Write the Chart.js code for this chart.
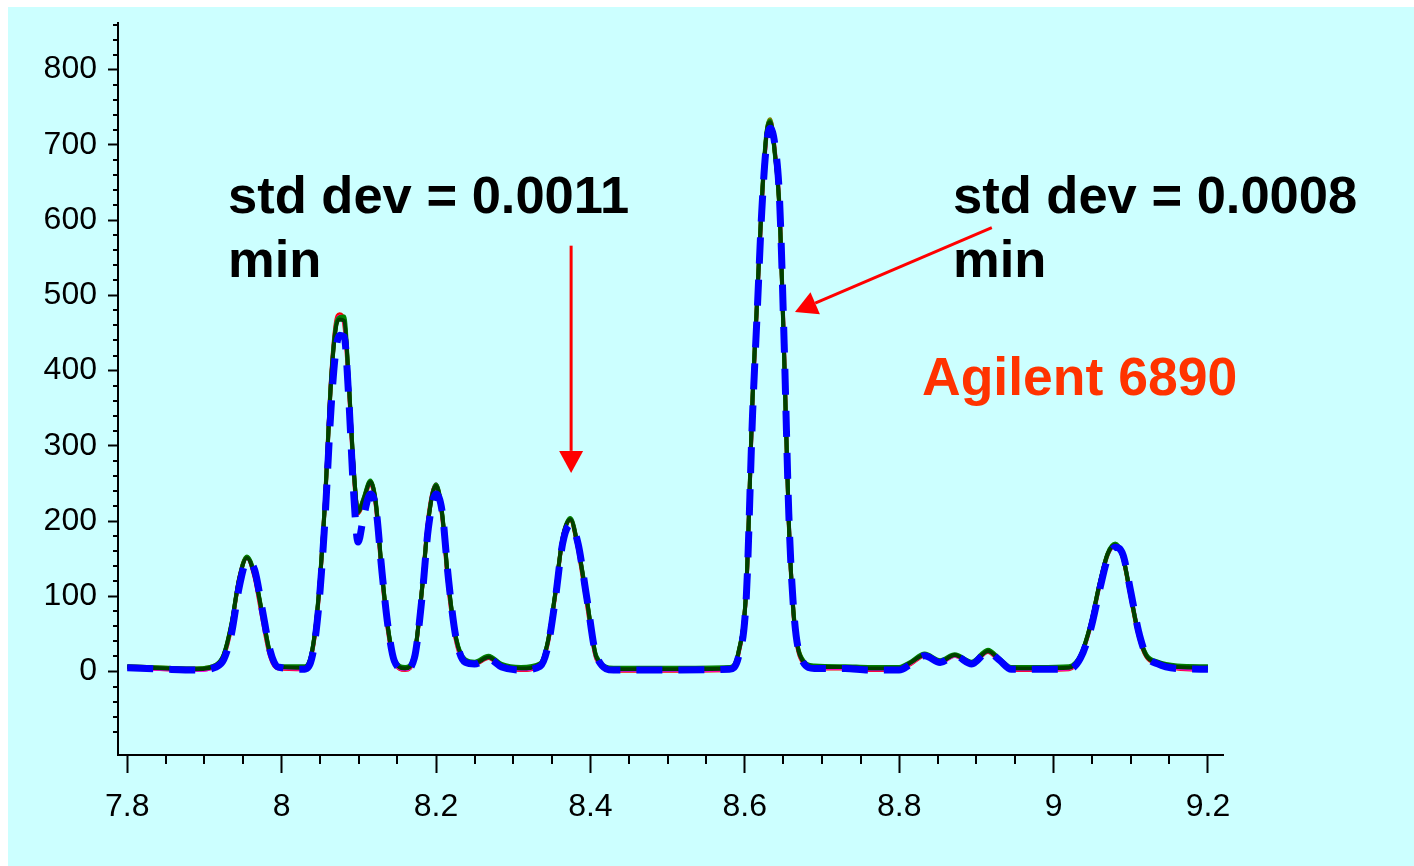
<!DOCTYPE html>
<html>
<head>
<meta charset="utf-8">
<script src="https://cdn.jsdelivr.net/npm/chart.js@4.4.1/dist/chart.umd.min.js"></script>
<style>
  body { margin: 0; background: #fff; }
  #bg { position: absolute; left: 8px; top: 7px; width: 1406px; height: 859px; background: #ccffff; }
  #myChart { position: absolute; left: 0; top: 0; }
</style>
</head>
<body>
<div id="bg"></div>
<canvas id="myChart" width="1414" height="866"></canvas>
<script>
// retention time (min)
var times = [7.80, 7.85, 7.89, 7.915, 7.925, 7.935, 7.945, 7.955, 7.965, 7.975,
             7.985, 7.995, 8.03, 8.04, 8.048, 8.056, 8.064, 8.07, 8.075, 8.081,
             8.087, 8.093, 8.099, 8.106, 8.115, 8.122, 8.13, 8.138, 8.146, 8.16,
             8.172, 8.182, 8.19, 8.2, 8.208, 8.216, 8.226, 8.238, 8.25, 8.268,
             8.285, 8.31, 8.335, 8.345, 8.354, 8.364, 8.374, 8.384, 8.395, 8.408,
             8.43, 8.5, 8.58, 8.592, 8.602, 8.61, 8.616, 8.622, 8.628, 8.633,
             8.639, 8.645, 8.651, 8.657, 8.663, 8.672, 8.69, 8.73, 8.76, 8.8,
             8.815, 8.833, 8.853, 8.872, 8.894, 8.915, 8.93, 8.945, 8.98, 9.02,
             9.035, 9.048, 9.06, 9.07, 9.08, 9.09, 9.1, 9.11, 9.12, 9.135,
             9.16, 9.2];

// replicate runs
var run1 = [5, 3, 2, 7, 20, 60, 124, 152, 125, 70,
            20, 4, 3, 28, 98, 225, 390, 462, 475, 462,
            378, 268, 210, 226, 250, 220, 126, 52, 13, 2,
            20, 112, 205, 248, 205, 112, 40, 12, 10, 18,
            6, 2, 8, 38, 98, 178, 201, 162, 92, 16,
            1, 1, 2, 24, 112, 362, 495, 625, 712, 731,
            688, 612, 418, 196, 76, 18, 4, 4, 2, 2,
            10, 21, 12, 21, 10, 26, 14, 2, 2, 3,
            20, 62, 118, 156, 167, 150, 98, 48, 20, 10,
            4, 2];
var run2 = [6, 3, 2, 8, 21, 61, 123, 151, 126, 74,
            22, 5, 4, 29, 100, 222, 386, 458, 472, 466,
            382, 272, 213, 228, 252, 222, 128, 54, 14, 3,
            21, 111, 202, 249, 207, 116, 42, 13, 11, 19,
            7, 3, 9, 39, 99, 176, 203, 166, 96, 17,
            2, 2, 3, 25, 110, 358, 490, 620, 710, 733,
            692, 618, 424, 202, 80, 20, 5, 5, 3, 3,
            11, 22, 12, 21, 10, 27, 15, 3, 3, 4,
            20, 60, 116, 155, 166, 152, 102, 52, 22, 11,
            5, 3];
var run3 = [7, 5, 4, 9, 22, 62, 122, 152, 128, 76,
            24, 6, 6, 30, 101, 220, 384, 456, 470, 468,
            384, 275, 214, 229, 253, 224, 131, 56, 16, 5,
            22, 110, 200, 248, 209, 118, 44, 15, 12, 20,
            9, 5, 10, 40, 100, 175, 202, 165, 98, 19,
            4, 4, 5, 26, 111, 360, 492, 622, 714, 734,
            690, 616, 422, 200, 82, 22, 7, 6, 5, 5,
            12, 23, 14, 22, 12, 28, 16, 5, 5, 6,
            21, 61, 117, 155, 168, 151, 100, 50, 22, 12,
            7, 6];
var run4 = [7, 5, 4, 9, 23, 64, 124, 153, 129, 77,
            25, 7, 7, 31, 103, 224, 388, 458, 471, 472,
            386, 276, 212, 230, 254, 226, 132, 57, 17, 6,
            23, 112, 201, 249, 210, 119, 45, 16, 13, 21,
            10, 6, 11, 41, 101, 178, 204, 166, 99, 20,
            5, 5, 6, 27, 113, 364, 496, 628, 716, 732,
            686, 610, 416, 198, 80, 21, 8, 7, 6, 6,
            13, 24, 15, 23, 13, 29, 17, 6, 6, 7,
            22, 63, 119, 157, 170, 152, 101, 51, 23, 13,
            8, 7];
var run5 = [6, 4, 3, 8, 22, 63, 123, 151, 127, 75,
            23, 6, 5, 30, 100, 222, 386, 455, 468, 466,
            383, 273, 212, 228, 252, 223, 130, 55, 15, 4,
            22, 111, 201, 247, 208, 117, 43, 14, 11, 19,
            8, 4, 10, 40, 100, 177, 202, 164, 97, 18,
            3, 3, 4, 26, 112, 361, 493, 624, 713, 730,
            689, 614, 420, 199, 79, 20, 6, 6, 4, 4,
            12, 22, 13, 22, 11, 27, 16, 4, 4, 5,
            21, 62, 118, 156, 168, 151, 100, 50, 21, 12,
            6, 5];
var run6 = [5, 3, 2, 6, 16, 50, 112, 146, 135, 82,
            28, 6, 3, 22, 86, 200, 350, 425, 447, 445,
            362, 242, 172, 205, 236, 218, 132, 58, 14, 2,
            18, 100, 190, 236, 212, 124, 44, 12, 10, 17,
            6, 2, 7, 34, 92, 170, 195, 170, 100, 20,
            2, 2, 3, 20, 100, 340, 476, 612, 700, 722,
            700, 628, 436, 210, 86, 20, 4, 4, 2, 2,
            10, 21, 12, 21, 10, 26, 15, 3, 3, 3,
            18, 56, 110, 150, 165, 155, 106, 54, 22, 10,
            4, 3];

var xTicks = [7.8, 8, 8.2, 8.4, 8.6, 8.8, 9, 9.2];
var yTicks = [0, 100, 200, 300, 400, 500, 600, 700, 800];

function pts(vals) {
  return times.map(function (t, i) { return {x: t, y: vals[i]}; });
}

var font = "'Liberation Sans', Arial, sans-serif";

var extras = {
  id: 'extras',
  afterDraw: function (chart) {
    var c = chart.ctx, xs = chart.scales.x, ys = chart.scales.y;
    c.save();
    // minor ticks
    c.strokeStyle = '#000';
    c.lineWidth = 2;
    c.beginPath();
    for (var v = -100; v <= 860; v += 20) {
      if (v % 100 === 0) continue;
      var py = Math.round(ys.getPixelForValue(v));
      c.moveTo(xs.left - 5, py);
      c.lineTo(xs.left, py);
    }
    for (var k = 0; k <= 28; k++) {
      if (k % 4 === 0) continue;
      var px = Math.round(xs.getPixelForValue(7.8 + k * 0.05));
      c.moveTo(px, ys.bottom);
      c.lineTo(px, ys.bottom + 9);
    }
    c.stroke();

    // annotations
    c.fillStyle = '#000';
    c.font = 'bold 52.5px ' + font;
    c.textBaseline = 'alphabetic';
    c.fillText('std dev = 0.0011', 228, 213);
    c.fillText('min', 228, 277);
    c.fillText('std dev = 0.0008', 953, 213);
    c.fillText('min', 953, 277);
    c.fillStyle = '#ff3300';
    c.font = 'bold 53.5px ' + font;
    c.fillText('Agilent 6890', 922, 395);

    function arrow(x0, y0, x1, y1) {
      var ax = xs.getPixelForValue(x0), ay = ys.getPixelForValue(y0);
      var bx = xs.getPixelForValue(x1), by = ys.getPixelForValue(y1);
      var ang = Math.atan2(by - ay, bx - ax);
      var hl = 22, hw = 12;
      var cx = bx - hl * Math.cos(ang), cy = by - hl * Math.sin(ang);
      c.strokeStyle = '#ff0000';
      c.fillStyle = '#ff0000';
      c.lineWidth = 3;
      c.beginPath();
      c.moveTo(ax, ay);
      c.lineTo(cx, cy);
      c.stroke();
      c.beginPath();
      c.moveTo(bx, by);
      c.lineTo(cx + hw * Math.sin(ang), cy - hw * Math.cos(ang));
      c.lineTo(cx - hw * Math.sin(ang), cy + hw * Math.cos(ang));
      c.closePath();
      c.fill();
    }
    arrow(8.375, 566, 8.375, 264);
    arrow(8.92, 590, 8.665, 478);
    c.restore();
  }
};

var ctx = document.getElementById("myChart").getContext("2d");
var lineBase = {pointRadius: 0, cubicInterpolationMode: 'monotone', fill: false};
var myChart = new Chart(ctx, {
  type: 'line',
  data: {
    datasets: [
      Object.assign({label: 'run6', data: pts(run6), borderColor: '#0000ff', borderWidth: 7, borderDash: [26, 16]}, lineBase),
      Object.assign({label: 'run5', data: pts(run5), borderColor: '#004000', borderWidth: 4}, lineBase),
      Object.assign({label: 'run4', data: pts(run4), borderColor: '#008000', borderWidth: 4}, lineBase),
      Object.assign({label: 'run3', data: pts(run3), borderColor: '#808000', borderWidth: 4}, lineBase),
      Object.assign({label: 'run2', data: pts(run2), borderColor: '#ff00ff', borderWidth: 4}, lineBase),
      Object.assign({label: 'run1', data: pts(run1), borderColor: '#ff0000', borderWidth: 4}, lineBase)
    ]
  },
  plugins: [extras],
  options: {
    responsive: false,
    animation: false,
    layout: {padding: {left: 0, top: 23, right: 191, bottom: 0}},
    plugins: {legend: {display: false}, tooltip: {enabled: false}},
    scales: {
      x: {
        type: 'linear', min: 7.788, max: 9.2195,
        afterBuildTicks: function (s) { s.ticks = xTicks.map(function (v) { return {value: v}; }); },
        afterFit: function (s) { s.height = 111; s.paddingLeft = 0; s.paddingRight = 0; },
        grid: {drawOnChartArea: false, drawTicks: true, tickLength: 18, tickColor: '#000', tickWidth: 2},
        border: {color: '#000', width: 2},
        ticks: {color: '#000', font: {family: font, size: 32}, padding: 15, maxRotation: 0,
                callback: function (v) { return String(+v.toFixed(2)); }}
      },
      y: {
        type: 'linear', min: -111, max: 862,
        afterBuildTicks: function (s) { s.ticks = yTicks.map(function (v) { return {value: v}; }); },
        afterFit: function (s) { s.width = 118; s.paddingTop = 0; s.paddingBottom = 0; },
        grid: {drawOnChartArea: false, drawTicks: true, tickLength: 10, tickColor: '#000', tickWidth: 2},
        border: {color: '#000', width: 2},
        ticks: {color: '#000', font: {family: font, size: 32}, padding: 11}
      }
    }
  }
});
</script>
</body>
</html>
